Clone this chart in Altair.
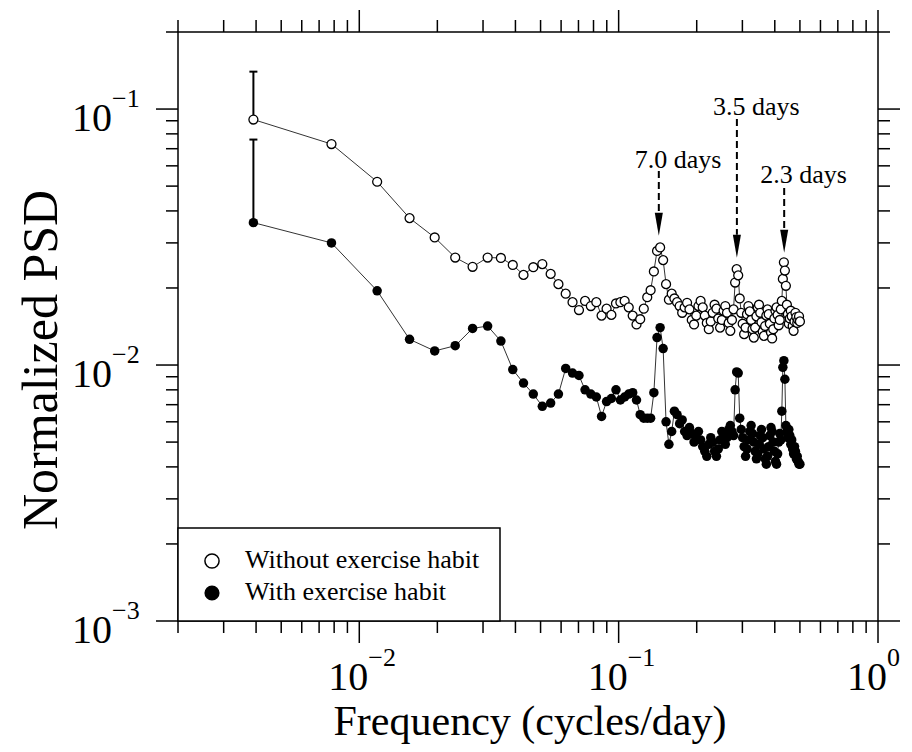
import altair as alt
import pandas as pd
import numpy as np

FONT = "Liberation Serif"

# spectral grid (k/256 cycles/day, k = 1..128)
n_points = 128
freq = [k / 256 for k in range(1, n_points + 1)]

psd_without = [
    0.091, 0.073, 0.052, 0.0375, 0.0315, 0.0263, 0.0242, 0.0263, 0.0262, 0.0246,
    0.0225, 0.0241, 0.0248, 0.0227, 0.0207, 0.0190, 0.0176, 0.0164, 0.0178, 0.0170,
    0.0176, 0.0156, 0.0166, 0.0157, 0.0174, 0.0176, 0.0178, 0.0168, 0.0156, 0.0144,
    0.0151, 0.0166, 0.0184, 0.0196, 0.0232, 0.0279, 0.0288, 0.0257, 0.0207, 0.0180,
    0.0190, 0.0182,
    0.0176, 0.0170, 0.0160, 0.0168, 0.0175, 0.0165, 0.0150, 0.0144, 0.0156, 0.0170,
    0.0178, 0.0168, 0.0156, 0.0146, 0.0138, 0.0148, 0.0160, 0.0172, 0.0166, 0.0152,
    0.0140, 0.0150, 0.0163, 0.0170, 0.0160, 0.0146, 0.0136, 0.0150, 0.0165,
    0.0210, 0.0237, 0.0224, 0.0182,
    0.0160, 0.0145, 0.0132, 0.0140, 0.0158, 0.0170, 0.0162, 0.0150, 0.0138, 0.0128,
    0.0140, 0.0155, 0.0168, 0.0172, 0.0160, 0.0147, 0.0135, 0.0130, 0.0142, 0.0156,
    0.0165, 0.0158, 0.0145, 0.0134, 0.0127, 0.0138, 0.0152, 0.0163, 0.0168, 0.0157,
    0.0143, 0.0150, 0.0165,
    0.0178, 0.0217, 0.0252, 0.0234, 0.0204, 0.0172,
    0.0158, 0.0145, 0.0152, 0.0163, 0.0155, 0.0142, 0.0136, 0.0148, 0.0160, 0.0154,
    0.0146, 0.0150, 0.0155, 0.0148,
]

psd_with = [
    0.036, 0.030, 0.0195, 0.0126, 0.01135, 0.0119, 0.0139, 0.0142, 0.0124, 0.0096,
    0.0085, 0.0077, 0.0069, 0.0071, 0.0077, 0.0097, 0.0093, 0.0091, 0.0080, 0.0077,
    0.0075, 0.0063, 0.0072, 0.0074, 0.0080, 0.0073, 0.0075, 0.0077, 0.0078, 0.0073,
    0.0064, 0.0062, 0.0062, 0.0062, 0.0078, 0.0128, 0.0140, 0.0116, 0.0060, 0.0049,
    0.0055, 0.0066,
    0.0064, 0.0059, 0.0061, 0.0055, 0.0053, 0.0057, 0.0054, 0.0050, 0.0052, 0.0055,
    0.0051, 0.0048, 0.0046, 0.0044, 0.0049, 0.0052, 0.0050, 0.0046, 0.0044, 0.0047,
    0.0051, 0.0055, 0.0053, 0.0049, 0.0052, 0.0056, 0.0058, 0.0055, 0.0053,
    0.0080, 0.0094, 0.0093, 0.0062,
    0.0056, 0.0052, 0.0048, 0.0044, 0.0047, 0.0051, 0.0055, 0.0058, 0.0054, 0.0050,
    0.0046, 0.0043, 0.0045, 0.0049, 0.0053, 0.0056, 0.0052, 0.0047, 0.0043, 0.0041,
    0.0044, 0.0048, 0.0053, 0.0057, 0.0055, 0.0050, 0.0046, 0.0042, 0.0041, 0.0045,
    0.0050, 0.0054, 0.0051,
    0.0066, 0.0098, 0.0104, 0.0088, 0.0058,
    0.0055, 0.0052, 0.0056, 0.0053, 0.0049, 0.0051, 0.0047, 0.0045, 0.0048, 0.0046,
    0.0043, 0.0044, 0.0042, 0.0041, 0.0041,
]

series_names = ["Without exercise habit", "With exercise habit"]
err_top = [0.14, 0.076]

peak_labels = ["7.0 days", "3.5 days", "2.3 days"]
peak_freq = [1 / 7, 1 / 3.5, 1 / 2.3]
peak_label_y = [0.0589, 0.0948, 0.0515]
peak_line_top = [0.0573, 0.0914, 0.0492]
peak_head_top = [0.0394, 0.0323, 0.0337]
peak_tip = [0.0320, 0.0262, 0.0275]

x_major = [0.01, 0.1, 1.0]
x_major_exp = ["\u22122", "\u22121", "0"]
x_minor = [m * 10.0 ** e for e in (-3, -2, -1) for m in range(2, 10)]
y_major = [0.001, 0.01, 0.1]
y_major_exp = ["\u22123", "\u22122", "\u22121"]
y_minor = [m * 10.0 ** e for e in (-3, -2) for m in range(2, 10)] + [0.2]

x_title = "Frequency (cycles/day)"
y_title = "Normalized PSD"

# ---------------- layout constants ----------------
W, H = 700, 589
MAJ, MIN = 22, 12

xscale = alt.Scale(type="log", domain=[0.002, 1], nice=False)
yscale = alt.Scale(type="log", domain=[0.001, 0.2], nice=False)


def X(f):
    return alt.X(f"{f}:Q", scale=xscale, axis=None)


def Y(f):
    return alt.Y(f"{f}:Q", scale=yscale, axis=None)


df_open = pd.DataFrame({"freq": freq, "psd": psd_without, "series": series_names[0]})
df_fill = pd.DataFrame({"freq": freq, "psd": psd_with, "series": series_names[1]})
df_all = pd.concat([df_open, df_fill], ignore_index=True)

df_err = pd.DataFrame({
    "freq": [freq[0], freq[0]],
    "psd": [psd_without[0], psd_with[0]],
    "top": err_top,
})

df_peak = pd.DataFrame({
    "label": peak_labels,
    "f": peak_freq,
    "label_y": peak_label_y,
    "line_top": peak_line_top,
    "head_top": peak_head_top,
    "head_mid": list(np.sqrt(np.array(peak_head_top) * np.array(peak_tip))),
})

df_xmaj = pd.DataFrame({"v": x_major, "base": "10", "exp": x_major_exp})
df_xmin = pd.DataFrame({"v": x_minor})
df_ymaj = pd.DataFrame({"v": y_major, "base": "10", "exp": y_major_exp})
df_ymin = pd.DataFrame({"v": y_minor})

layers = []

# series lines
layers.append(
    alt.Chart(df_all).mark_line(color="#333333", strokeWidth=1).encode(
        x=X("freq"), y=Y("psd"), detail="series:N"
    )
)

# error bars (upper only) on first point
layers.append(
    alt.Chart(df_err).mark_rule(color="black", strokeWidth=2).encode(
        x=X("freq"), y=Y("psd"), y2="top:Q"
    )
)
layers.append(
    alt.Chart(df_err).mark_rule(color="black", strokeWidth=2, xOffset=-4, x2Offset=4).encode(
        x=X("freq"), x2="freq:Q", y=Y("top")
    )
)

# points
layers.append(
    alt.Chart(df_open).mark_point(
        shape="circle", filled=True, fill="white", stroke="black",
        strokeWidth=1.3, size=80, opacity=1
    ).encode(x=X("freq"), y=Y("psd"))
)
layers.append(
    alt.Chart(df_fill).mark_circle(color="black", size=90, opacity=1).encode(
        x=X("freq"), y=Y("psd")
    )
)

# peak annotations
layers.append(
    alt.Chart(df_peak).mark_rule(color="black", strokeWidth=2, strokeDash=[7, 4]).encode(
        x=X("f"), y=Y("line_top"), y2="head_top:Q"
    )
)
layers.append(
    alt.Chart(df_peak).mark_point(
        shape="M-0.35,-1L0.35,-1L0,1Z", filled=True, color="black", size=529, opacity=1
    ).encode(x=X("f"), y=Y("head_mid"))
)
layers.append(
    alt.Chart(df_peak).mark_text(
        font=FONT, fontSize=26, align="left", baseline="alphabetic", dx=-24, color="black"
    ).encode(x=X("f"), y=Y("label_y"), text="label:N")
)

# ticks (outward, all four sides)
tick_style = dict(color="black", strokeWidth=1.5)
for df_t, ln in ((df_xmaj, MAJ), (df_xmin, MIN)):
    layers.append(alt.Chart(df_t).mark_rule(**tick_style).encode(
        x=X("v"), y=alt.value(H), y2=alt.value(H + ln)))
    layers.append(alt.Chart(df_t).mark_rule(**tick_style).encode(
        x=X("v"), y=alt.value(0), y2=alt.value(-ln)))
for df_t, ln in ((df_ymaj, MAJ), (df_ymin, MIN)):
    layers.append(alt.Chart(df_t).mark_rule(**tick_style).encode(
        y=Y("v"), x=alt.value(0), x2=alt.value(-ln)))
    layers.append(alt.Chart(df_t).mark_rule(**tick_style).encode(
        y=Y("v"), x=alt.value(W), x2=alt.value(W + ln)))

# tick labels 10^n
layers.append(alt.Chart(df_xmaj).mark_text(
    font=FONT, fontSize=40, align="right", baseline="alphabetic", dx=9, color="black"
).encode(x=X("v"), y=alt.value(H + 69), text="base:N"))
layers.append(alt.Chart(df_xmaj).mark_text(
    font=FONT, fontSize=26, align="left", baseline="alphabetic", dx=9, color="black"
).encode(x=X("v"), y=alt.value(H + 45), text="exp:N"))
layers.append(alt.Chart(df_ymaj).mark_text(
    font=FONT, fontSize=40, align="right", baseline="alphabetic", dy=22, color="black"
).encode(y=Y("v"), x=alt.value(-66), text="base:N"))
layers.append(alt.Chart(df_ymaj).mark_text(
    font=FONT, fontSize=26, align="left", baseline="alphabetic", dy=-2, color="black"
).encode(y=Y("v"), x=alt.value(-66), text="exp:N"))

# axis titles
layers.append(alt.Chart(pd.DataFrame({"t": [x_title]})).mark_text(
    font=FONT, fontSize=42, align="center", baseline="alphabetic", color="black"
).encode(x=alt.value(352), y=alt.value(H + 114), text="t:N"))
layers.append(alt.Chart(pd.DataFrame({"t": [y_title]})).mark_text(
    font=FONT, fontSize=50, align="center", baseline="alphabetic", angle=270, color="black"
).encode(x=alt.value(-121), y=alt.value(328), text="t:N"))

# legend box
layers.append(alt.Chart(pd.DataFrame({"a": [0]})).mark_rect(
    fill="white", stroke="black", strokeWidth=1.5
).encode(x=alt.value(0), x2=alt.value(322), y=alt.value(496), y2=alt.value(H)))
legend_rows = [536, 568]
for i, name in enumerate(series_names):
    d = pd.DataFrame({"name": [name]})
    if i == 0:
        sym = alt.Chart(d).mark_point(shape="circle", filled=True, fill="white",
                                      stroke="black", strokeWidth=1.5, size=200, opacity=1)
    else:
        sym = alt.Chart(d).mark_circle(color="black", size=230, opacity=1)
    layers.append(sym.encode(x=alt.value(34), y=alt.value(legend_rows[i] - 7)))
    layers.append(alt.Chart(d).mark_text(
        font=FONT, fontSize=26, align="left", baseline="alphabetic", color="black"
    ).encode(x=alt.value(67), y=alt.value(legend_rows[i]), text="name:N"))

chart = alt.layer(*layers).properties(
    width=W, height=H,
    autosize=alt.AutoSizeParams(type="none"),
    padding={"left": 170, "top": 24, "right": 26, "bottom": 123},
).configure_view(stroke="black", strokeWidth=1.5)

chart.save("out.html", embed_options={"renderer": "svg", "actions": False})
